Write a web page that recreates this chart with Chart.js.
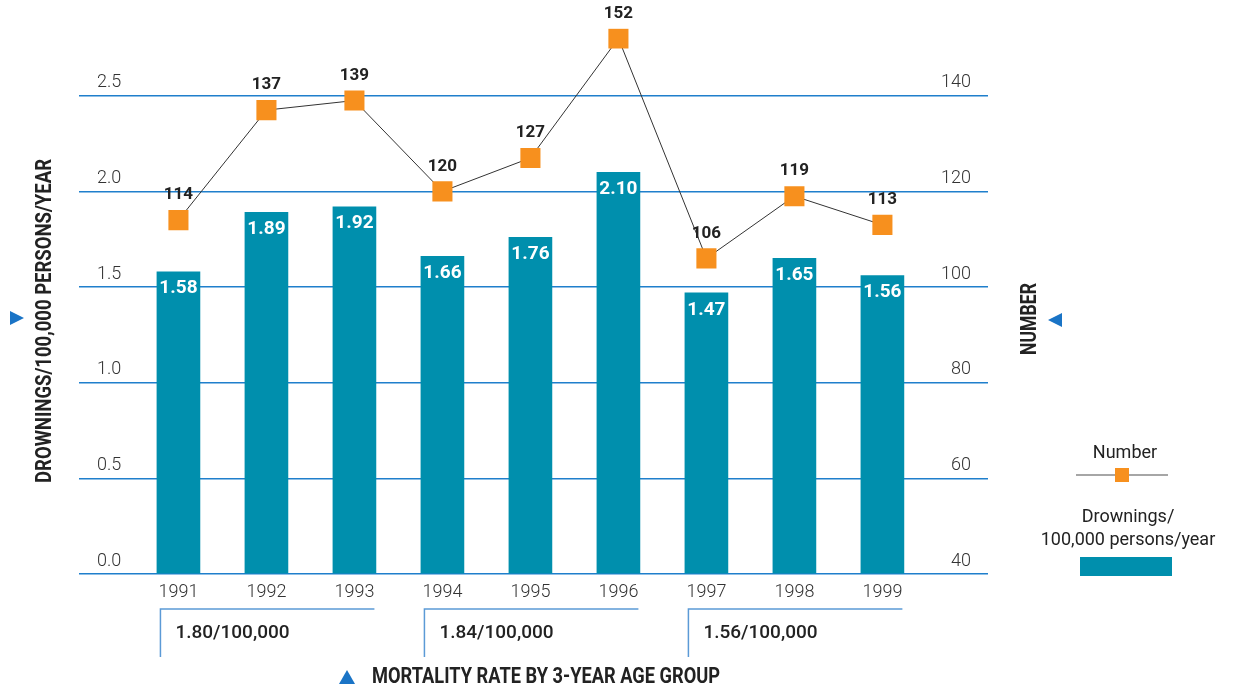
<!DOCTYPE html>
<html>
<head>
<meta charset="utf-8">
<title>Drownings 1991-1999</title>
<script src="https://cdn.jsdelivr.net/npm/chart.js@4.4.1/dist/chart.umd.min.js"></script>
<style>
  body { margin: 0; background: #fff; }
  #wrap { width: 1233px; height: 688px; }
</style>
</head>
<body>
<div id="wrap"><canvas id="grafico"></canvas></div>
<script>
const years = [1991, 1992, 1993, 1994, 1995, 1996, 1997, 1998, 1999];
const rates = [1.58, 1.89, 1.92, 1.66, 1.76, 2.10, 1.47, 1.65, 1.56];
const counts = [114, 137, 139, 120, 127, 152, 106, 119, 113];

const rateTicks = [0, 0.5, 1.0, 1.5, 2.0, 2.5];
const countTicks = [40, 60, 80, 100, 120, 140];

const groupStart = [1991, 1994, 1997];
const groupEnd = [1993, 1996, 1999];
const groupLabels = ['1.80/100,000', '1.84/100,000', '1.56/100,000'];

const TEAL = '#008fad';
const ORANGE = '#f7901e';
const BLUE = '#1f7fcc';
const INK = '#222';

const narrow = '"Liberation Sans Narrow", "Roboto", sans-serif';
const roboto = 'Roboto, "Liberation Sans", sans-serif';

// both value axes run a bit past the last gridline so the 152 square fits
const rateMax = 2.85;
const countMax = 40 + rateMax * 40;

function triangle(ctx, x, y, dir) {
  // small pointer glyph drawn as a path, dir: 'right' | 'left' | 'up'
  ctx.beginPath();
  if (dir === 'right') {
    ctx.moveTo(x - 7, y - 7); ctx.lineTo(x + 7, y); ctx.lineTo(x - 7, y + 7);
  } else if (dir === 'left') {
    ctx.moveTo(x + 7, y - 7); ctx.lineTo(x - 7, y); ctx.lineTo(x + 7, y + 7);
  } else {
    ctx.moveTo(x - 8, y + 7); ctx.lineTo(x, y - 7); ctx.lineTo(x + 8, y + 7);
  }
  ctx.closePath();
  ctx.fillStyle = '#1a74c6';
  ctx.fill();
}

const extras = {
  id: 'extras',
  afterDatasetsDraw(chart) {
    const ctx = chart.ctx;
    const area = chart.chartArea;
    const x = chart.scales.x;
    const bars = chart.getDatasetMeta(0).data;
    const points = chart.getDatasetMeta(1).data;

    ctx.save();
    ctx.textAlign = 'center';
    ctx.textBaseline = 'middle';

    // values inside the bars
    ctx.font = 'bold 19px ' + narrow;
    ctx.fillStyle = '#fff';
    bars.forEach((b, i) => ctx.fillText(rates[i].toFixed(2), b.x, b.y + 17));

    // values above the squares
    ctx.font = 'bold 17px ' + narrow;
    ctx.fillStyle = INK;
    points.forEach((p, i) => ctx.fillText(String(counts[i]), p.x, p.y - 25));

    // axis titles
    ctx.font = 'bold 22px ' + narrow;
    ctx.save();
    ctx.translate(45, 321);
    ctx.rotate(-Math.PI / 2);
    ctx.fillText('DROWNINGS/100,000 PERSONS/YEAR', 0, 0, 324);
    ctx.restore();
    triangle(ctx, 17, 318, 'right');

    ctx.fillStyle = INK;
    ctx.save();
    ctx.translate(area.right + 42, 319);
    ctx.rotate(-Math.PI / 2);
    ctx.fillText('NUMBER', 0, 0, 72);
    ctx.restore();
    triangle(ctx, area.right + 67, 320, 'left');

    // 3-year group brackets
    ctx.strokeStyle = '#5b9ad6';
    ctx.lineWidth = 1.5;
    groupLabels.forEach((label, i) => {
      const x0 = x.getPixelForValue(groupStart[i]) - 18;
      const x1 = x.getPixelForValue(groupEnd[i]) + 20;
      ctx.beginPath();
      ctx.moveTo(x0, 657);
      ctx.lineTo(x0, 609);
      ctx.lineTo(x1, 609);
      ctx.stroke();
      ctx.font = '500 19px ' + roboto;
      ctx.fillStyle = INK;
      ctx.textAlign = 'left';
      ctx.fillText(label, x0 + 15, 633);
    });

    triangle(ctx, 347, 677, 'up');
    ctx.font = 'bold 22px ' + narrow;
    ctx.fillStyle = INK;
    ctx.textAlign = 'left';
    ctx.fillText('MORTALITY RATE BY 3-YEAR AGE GROUP', 372, 677, 348);

    // legend
    ctx.textAlign = 'center';
    ctx.font = '18px ' + roboto;
    ctx.fillText('Number', 1125, 453);
    ctx.strokeStyle = '#888';
    ctx.lineWidth = 1.5;
    ctx.beginPath();
    ctx.moveTo(1076, 475);
    ctx.lineTo(1168, 475);
    ctx.stroke();
    ctx.fillStyle = ORANGE;
    ctx.fillRect(1115, 468, 14, 14);
    ctx.fillStyle = INK;
    ctx.fillText('Drownings/', 1128, 517);
    ctx.fillText('100,000 persons/year', 1128, 540);
    ctx.fillStyle = TEAL;
    ctx.fillRect(1080, 557, 92, 19);

    ctx.restore();
  }
};

const ctx = document.getElementById('grafico').getContext('2d');
const chart = new Chart(ctx, {
  data: {
    datasets: [{
      type: 'bar',
      label: 'Drownings/100,000 persons/year',
      data: years.map((y, i) => ({ x: y, y: rates[i] })),
      backgroundColor: TEAL,
      barThickness: 43,
      yAxisID: 'y',
      order: 2
    }, {
      type: 'line',
      label: 'Number',
      data: years.map((y, i) => ({ x: y, y: counts[i] })),
      borderColor: '#333',
      borderWidth: 1,
      pointStyle: 'rect',
      pointRadius: 14.2,
      pointHoverRadius: 14.2,
      pointBackgroundColor: ORANGE,
      pointBorderColor: ORANGE,
      pointBorderWidth: 0,
      yAxisID: 'y2',
      order: 1
    }]
  },
  options: {
    responsive: true,
    maintainAspectRatio: false,
    animation: false,
    events: [],
    layout: { padding: { left: 79, right: 245, top: 28, bottom: 0 } },
    plugins: {
      legend: { display: false },
      tooltip: { enabled: false }
    },
    scales: {
      x: {
        type: 'linear',
        offset: false,
        min: 1989.87,
        max: 2000.2,
        afterBuildTicks: s => { s.ticks = years.map(v => ({ value: v })); },
        afterFit: s => { s.height = 114; },
        grid: { display: false },
        border: { display: false },
        ticks: {
          callback: v => String(v),
          font: { family: roboto, size: 18, weight: 300 },
          color: '#333',
          padding: 0,
          maxRotation: 0,
          autoSkip: false
        }
      },
      y: {
        position: 'left',
        min: 0,
        max: rateMax,
        afterBuildTicks: s => { s.ticks = rateTicks.map(v => ({ value: v })); },
        afterFit: s => { s.width = 0; },
        grid: { color: BLUE, lineWidth: 1.5, drawTicks: false },
        border: { display: false },
        ticks: {
          mirror: true,
          padding: 18,
          labelOffset: -13,
          callback: v => v.toFixed(1),
          font: { family: roboto, size: 18, weight: 300 },
          color: '#333'
        }
      },
      y2: {
        position: 'right',
        min: 40,
        max: countMax,
        afterBuildTicks: s => { s.ticks = countTicks.map(v => ({ value: v })); },
        afterFit: s => { s.width = 0; },
        grid: { display: false, drawTicks: false },
        border: { display: false },
        ticks: {
          mirror: true,
          padding: -17,
          labelOffset: -13,
          callback: v => String(v),
          font: { family: roboto, size: 18, weight: 300 },
          color: '#333'
        }
      }
    }
  },
  plugins: [extras]
});
</script>
</body>
</html>
